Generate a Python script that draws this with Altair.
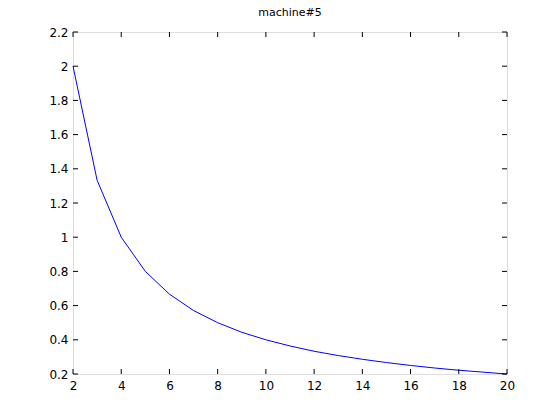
import altair as alt
import pandas as pd

x_vals = [2, 3, 4, 5, 6, 7, 8, 9, 10, 11, 12, 13, 14, 15, 16, 17, 18, 19, 20]
y_vals = [2.0, 1.333, 1.0, 0.8, 0.667, 0.571, 0.5, 0.444, 0.4, 0.364, 0.333,
          0.308, 0.286, 0.267, 0.25, 0.235, 0.222, 0.211, 0.2]
x_ticks = [2, 4, 6, 8, 10, 12, 14, 16, 18, 20]
y_ticks = [0.2, 0.4, 0.6, 0.8, 1.0, 1.2, 1.4, 1.6, 1.8, 2.0, 2.2]
title_text = ["machine#5"]

W, H = 434, 342
df = pd.DataFrame({"x": x_vals, "y": y_vals})
xt = pd.DataFrame({"t": x_ticks})
yt = pd.DataFrame({"t": y_ticks})
tdf = pd.DataFrame({"label": title_text})

xscale = alt.Scale(domain=[2, 20], nice=False, zero=False)
yscale = alt.Scale(domain=[0.2, 2.2], nice=False, zero=False)
font = "DejaVu Sans"
fs = 12

xaxis = alt.Axis(values=x_ticks, title=None, ticks=False, grid=False, domain=False,
                 labelFont=font, labelFontSize=fs, labelColor="black", labelPadding=6,
                 labelFlush=False, labelOverlap=False, labelBound=False)
yaxis = alt.Axis(values=y_ticks, title=None, ticks=False, grid=False, domain=False,
                 labelFont=font, labelFontSize=fs, labelColor="black", labelPadding=5,
                 labelFlush=False, labelOverlap=False, labelBound=False,
                 labelExpr="datum.value == 1 ? '1' : datum.value == 2 ? '2' : format(datum.value, '.1f')")

line = alt.Chart(df).mark_line(color="#0000ff", strokeWidth=1).encode(
    x=alt.X("x:Q", scale=xscale, axis=xaxis),
    y=alt.Y("y:Q", scale=yscale, axis=yaxis),
)

tl = 5
xb = alt.Chart(xt).mark_rule(color="black").encode(
    x=alt.X("t:Q", scale=xscale, axis=xaxis), y=alt.value(H), y2=alt.value(H - tl))
xtop = alt.Chart(xt).mark_rule(color="black").encode(
    x=alt.X("t:Q", scale=xscale, axis=xaxis), y=alt.value(0), y2=alt.value(tl))
yl = alt.Chart(yt).mark_rule(color="black").encode(
    y=alt.Y("t:Q", scale=yscale, axis=yaxis), x=alt.value(0), x2=alt.value(tl))
yr = alt.Chart(yt).mark_rule(color="black").encode(
    y=alt.Y("t:Q", scale=yscale, axis=yaxis), x=alt.value(W), x2=alt.value(W - tl))

title = alt.Chart(tdf).mark_text(font=font, fontSize=11, color="black",
                                 baseline="middle", align="center").encode(
    text="label:N", x=alt.value(W / 2), y=alt.value(-19))

chart = alt.layer(line, xb, xtop, yl, yr, title).properties(
    width=W, height=H,
    autosize=alt.AutoSizeParams(type="none"),
    padding={"left": 65, "top": 24, "right": 40, "bottom": 30},
).configure_view(stroke="black", strokeWidth=1).configure(background="white")

chart.save("out.html", embed_options={"renderer": "svg", "actions": False})
